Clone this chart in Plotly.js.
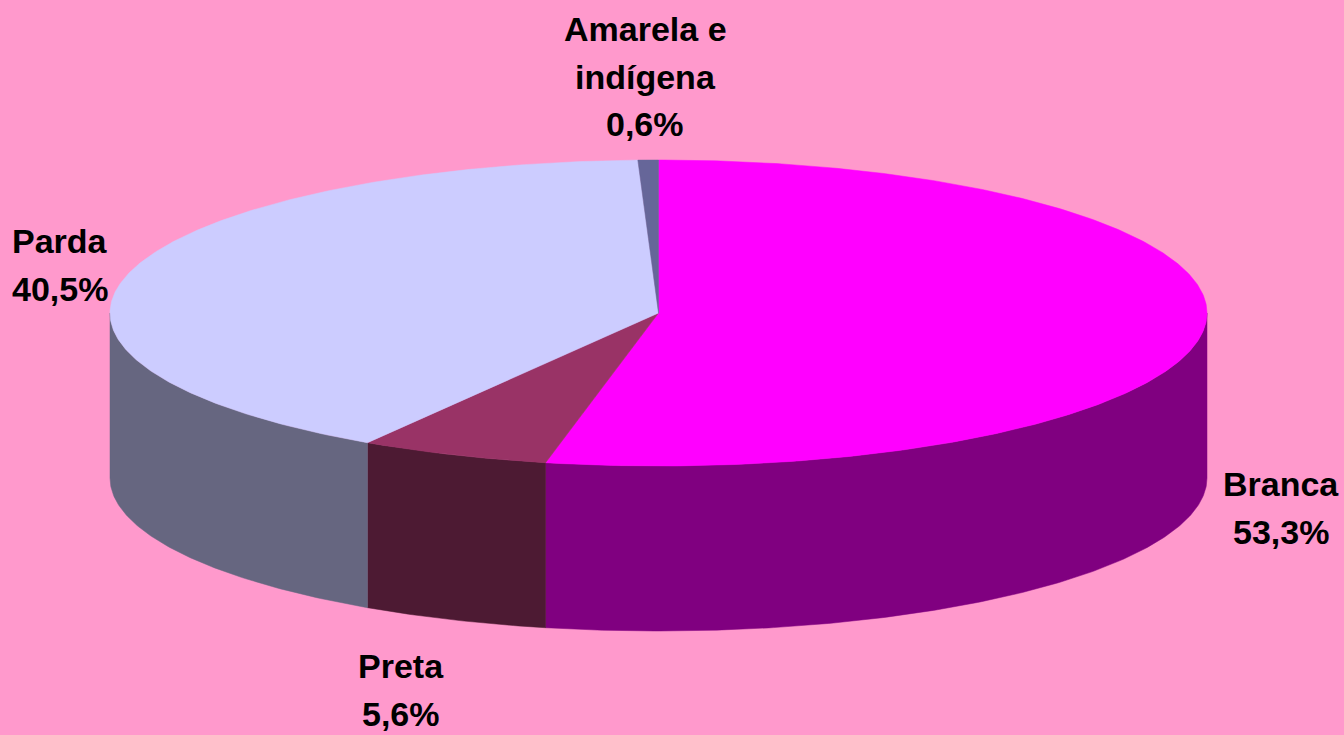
<!DOCTYPE html>
<html><head><meta charset="utf-8">
<script src="https://cdn.plot.ly/plotly-3.0.1.min.js"></script>
<style>html,body{margin:0;padding:0;background:#FF99CC;}#chart{width:1344px;height:735px;}</style>
</head><body><div id="chart"></div>
<script>
// Data
const categories = ["Branca", "Preta", "Parda", "Amarela e indígena"];
const values = [53.3, 5.6, 40.5, 0.6];
const valueLabels = ["53,3%", "5,6%", "40,5%", "0,6%"];
const labelLines = [["Branca"], ["Preta"], ["Parda"], ["Amarela e", "indígena"]];
const topColors = ["#FF00FF", "#993366", "#CCCCFF", "#666699"];
const sideColors = ["#800080", "#4D1A33", "#666680", "#4D4D73"];

// Geometry (pixel space)
const CX = 658.5, CY = 313, RX = 548.5, RY = 153, DEPTH = 165;
const LINE_H = 47.5;
// position of the first line of each label (x center, y center)
const labelPos = [[1281, 484], [401, 666], [60, 241], [645, 29]];

function pt(thetaDeg, dy) {
  const t = thetaDeg * Math.PI / 180;
  return [CX + RX * Math.sin(t), CY - RY * Math.cos(t) + (dy || 0)];
}
function arc(a, b, dy) {
  const n = Math.max(2, Math.ceil(Math.abs(b - a) / 0.5));
  const out = [];
  for (let i = 0; i <= n; i++) out.push(pt(a + (b - a) * i / n, dy));
  return out;
}

const total = values.reduce((s, v) => s + v, 0);
const slices = [];
let acc = 0;
values.forEach((v, i) => {
  const a = acc / total * 360; acc += v; const b = acc / total * 360;
  slices.push([a, b]);
});

const traces = [];
// side walls (visible front: 90..270 deg)
slices.forEach(([a, b], i) => {
  const s = Math.max(a, 90), e = Math.min(b, 270);
  if (e <= s) return;
  const p = arc(s, e, 0).concat(arc(e, s, DEPTH));
  p.push(p[0]);
  traces.push({type: "scatter", mode: "lines", x: p.map(q => q[0]), y: p.map(q => q[1]),
    fill: "toself", fillcolor: sideColors[i], line: {width: 0.5, color: sideColors[i]}, hoverinfo: "skip", showlegend: false});
});
// top faces
slices.forEach(([a, b], i) => {
  const p = [[CX, CY]].concat(arc(a, b, 0));
  p.push([CX, CY]);
  traces.push({type: "scatter", mode: "lines", x: p.map(q => q[0]), y: p.map(q => q[1]),
    fill: "toself", fillcolor: topColors[i], line: {width: 0.5, color: topColors[i]}, hoverinfo: "skip", showlegend: false});
});

const annotations = [];
categories.forEach((c, i) => {
  const lines = labelLines[i].concat([valueLabels[i]]);
  lines.forEach((ln, k) => {
    annotations.push({
      x: labelPos[i][0], y: labelPos[i][1] + k * LINE_H, xref: "x", yref: "y",
      text: "<b>" + ln + "</b>", showarrow: false,
      font: {family: "Liberation Sans, Arial, sans-serif", size: 34, color: "#000000"},
      align: "center", xanchor: "center", yanchor: "middle"
    });
  });
});

const layout = {
  width: 1344, height: 735,
  margin: {l: 0, r: 0, t: 0, b: 0},
  paper_bgcolor: "#FF99CC", plot_bgcolor: "#FF99CC",
  xaxis: {range: [0, 1344], visible: false, fixedrange: true},
  yaxis: {range: [735, 0], visible: false, fixedrange: true},
  annotations: annotations,
  showlegend: false
};
Plotly.newPlot("chart", traces, layout, {staticPlot: true});
</script></body></html>
